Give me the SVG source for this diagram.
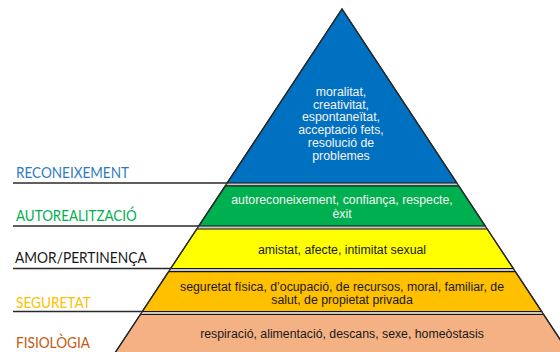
<svg xmlns="http://www.w3.org/2000/svg" width="560" height="352" viewBox="0 0 560 352">
  <style>
    .band { stroke: #141414; stroke-width: 1.2; stroke-linejoin: miter; }
    .lvl { font-family: Lato, "Open Sans", "Liberation Sans", sans-serif; font-size: 15px; }
    .txt { font-family: "Liberation Sans", Arial, sans-serif; font-size: 12.3px; text-anchor: middle; }
    .light { fill: #f4f4f4; }
    .dark { fill: #1a1a1a; }
    .guide { stroke: #2a2a2a; stroke-width: 1.3; fill: none; }
  </style>

  <rect width="560" height="352" fill="#ffffff"/>

  <!-- grey seams showing between the pyramid bands -->
  <polygon points="342,9 573.7,360 110.3,360" fill="#c8c8c8"/>

  <!-- pyramid levels, top to bottom -->
  <g id="reconeixement">
    <polygon class="band" points="342,9 456.8,183 227.2,183" fill="#0070c0"/>
    <text class="txt light" font-size="10.5px" x="341" y="96">moralitat,</text>
    <text class="txt light" font-size="10.5px" x="341" y="108.7">creativitat,</text>
    <text class="txt light" font-size="10.5px" x="341" y="121.4">espontaneïtat,</text>
    <text class="txt light" font-size="10.5px" x="341" y="134.1">acceptació fets,</text>
    <text class="txt light" font-size="10.5px" x="341" y="146.8">resolució de</text>
    <text class="txt light" font-size="10.5px" x="341" y="159.5">problemes</text>
  </g>

  <g id="autorealitzacio">
    <polygon class="band" points="225.3,185.8 458.7,185.8 485.2,226 198.8,226" fill="#00b050"/>
    <text class="txt light" x="342" y="204">autoreconeixement, confiança, respecte,</text>
    <text class="txt light" x="342" y="218">èxit</text>
  </g>

  <g id="amor-pertinenca">
    <polygon class="band" points="196.8,229 487.2,229 513.3,268.5 170.7,268.5" fill="#ffff00"/>
    <text class="txt dark" x="342" y="254">amistat, afecte, intimitat sexual</text>
  </g>

  <g id="seguretat">
    <polygon class="band" points="168.6,271.7 515.4,271.7 541.65,311.5 142.35,311.5" fill="#ffc000"/>
    <text class="txt dark" x="342" y="290.5">seguretat física, d’ocupació, de recursos, moral, familiar, de</text>
    <text class="txt dark" x="342" y="304">salut, de propietat privada</text>
  </g>

  <g id="fisiologia">
    <polygon class="band" points="140.4,314.5 543.6,314.5 573.7,360 110.3,360" fill="#f4b183"/>
    <text class="txt dark" x="342" y="338.3">respiració, alimentació, descans, sexe, homeòstasis</text>
  </g>

  <!-- outer edges of the pyramid -->
  <polyline class="guide" points="110.3,360 342,9 573.7,360"/>

  <!-- rule lines running from the level names to the pyramid -->
  <g id="connectors">
    <line class="guide" x1="13" y1="183" x2="227.2" y2="183"/>
    <line class="guide" x1="13" y1="226" x2="198.8" y2="226"/>
    <line class="guide" x1="13" y1="268.5" x2="170.7" y2="268.5"/>
    <line class="guide" x1="13" y1="311.5" x2="142.35" y2="311.5"/>
  </g>

  <!-- level names -->
  <g id="labels">
    <text class="lvl" x="16" y="178.3" fill="#2e7bc4" textLength="113" lengthAdjust="spacingAndGlyphs">RECONEIXEMENT</text>
    <text class="lvl" x="16" y="220.7" fill="#00b050" textLength="120.7" lengthAdjust="spacingAndGlyphs">AUTOREALITZACIÓ</text>
    <text class="lvl" x="15" y="263.3" fill="#1a1a1a" textLength="131.7" lengthAdjust="spacingAndGlyphs">AMOR/PERTINENÇA</text>
    <text class="lvl" x="16" y="308.3" fill="#ffc000" textLength="74.7" lengthAdjust="spacingAndGlyphs">SEGURETAT</text>
    <text class="lvl" x="16" y="348.3" fill="#c55a11" textLength="74" lengthAdjust="spacingAndGlyphs">FISIOLÒGIA</text>
  </g>
</svg>
